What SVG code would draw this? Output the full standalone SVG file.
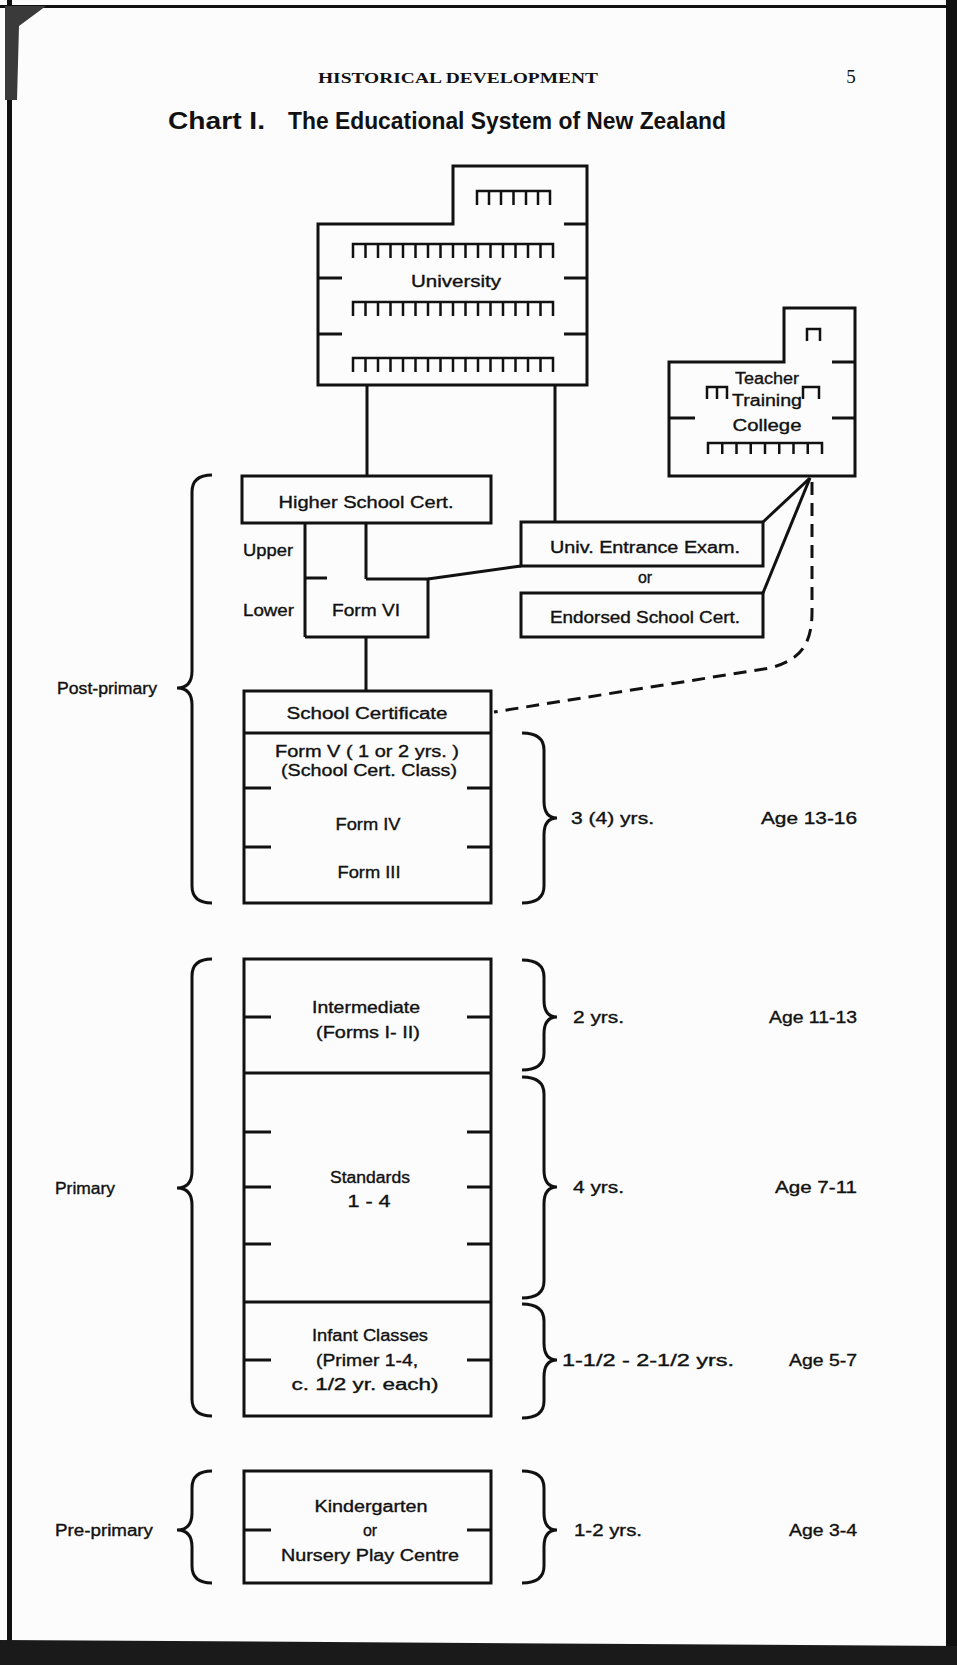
<svg xmlns="http://www.w3.org/2000/svg" width="957" height="1665" viewBox="0 0 957 1665">
<style>
.ln{stroke:#111;stroke-width:3;fill:none;stroke-linejoin:miter}
.bx{stroke:#111;stroke-width:3;fill:none}
.th{stroke:#111;stroke-width:2.5;fill:none}
.dash{stroke:#111;stroke-width:3;fill:none;stroke-dasharray:13 8}
.t{font-family:"Liberation Sans",Arial,sans-serif;font-size:16px;fill:#111;stroke:#111;stroke-width:0.35}
.c{text-anchor:middle}
.e{text-anchor:end}
.hd{font-family:"Liberation Serif","Times New Roman",serif;font-weight:bold;font-size:15px;fill:#111}
.ti{font-family:"Liberation Sans",Arial,sans-serif;font-weight:bold;font-size:23px;fill:#111}
</style>
<defs>
<path id="comb16" d="M0,14 V0 H200 V14 M12.5,0 V14 M25,0 V14 M37.5,0 V14 M50,0 V14 M62.5,0 V14 M75,0 V14 M87.5,0 V14 M100,0 V14 M112.5,0 V14 M125,0 V14 M137.5,0 V14 M150,0 V14 M162.5,0 V14 M175,0 V14 M187.5,0 V14" class="th"/>
</defs>
<rect x="0" y="0" width="957" height="1665" fill="#fcfcfc"/>
<g id="page-frame">
<rect x="7" y="0" width="5" height="1665" fill="#111"/>
<rect x="0" y="5" width="957" height="3" fill="#111"/>
<polygon points="5,6 46,6 19,26 17,100 5,100" fill="#3a3a3a"/>
<rect x="946" y="0" width="11" height="1665" fill="#111"/>
<polygon points="0,1640 957,1646 957,1665 0,1665" fill="#1a1a1a"/>
</g>
<g id="header">
<text class="hd" x="318" y="83" textLength="280" lengthAdjust="spacingAndGlyphs">HISTORICAL DEVELOPMENT</text>
<text x="851" y="83" font-family="Liberation Serif,serif" font-size="19" fill="#111" text-anchor="middle">5</text>
<text class="ti" x="168" y="129" textLength="97" lengthAdjust="spacingAndGlyphs">Chart I.</text>
<text class="ti" x="288" y="129" textLength="438" lengthAdjust="spacingAndGlyphs">The Educational System of New Zealand</text>
</g>
<g id="connectors">
<path class="ln" d="M367,385 V476"/>
<path class="ln" d="M555,385 V522"/>
<path class="ln" d="M305,523 V637"/>
<path class="ln" d="M366,523 V579"/>
<path class="ln" d="M428,579 L521,566"/>
<path class="ln" d="M366,637 V691"/>
<path class="ln" d="M763,522 L810,478"/>
<path class="ln" d="M763,593 L810,478"/>
<path class="dash" d="M812,482 V612 C812,645 800,660 770,668 L494,712"/>
</g>
<g id="university">
<path class="bx" d="M318,224 H453 V166 H587 V385 H318 Z"/>
<path class="ln" d="M564,224 H587 M318,278 H342 M564,278 H587 M318,334 H342 M564,334 H587"/>
<path class="th" d="M477,205 V191 H550 V205 M489,191 V205 M501,191 V205 M513.5,191 V205 M526,191 V205 M538,191 V205"/>
<use href="#comb16" x="353" y="244"/>
<use href="#comb16" x="353" y="302"/>
<use href="#comb16" x="353" y="358"/>
<text class="t c" x="456" y="287" textLength="90" lengthAdjust="spacingAndGlyphs">University</text>
</g>
<g id="teacher-training-college">
<path class="bx" d="M669,362 H784 V308 H855 V476 H669 Z"/>
<path class="ln" d="M832,362 H855 M669,418 H695 M832,418 H855"/>
<path class="th" d="M807,341 V329 H820 V341"/>
<path class="th" d="M707,399 V387 H727 V399 M717,387 V399"/>
<path class="th" d="M803,399 V387 H819 V399"/>
<path class="th" d="M708,454 V443 H822 V454 M722.25,443 V454 M736.5,443 V454 M750.75,443 V454 M765,443 V454 M779.25,443 V454 M793.5,443 V454 M807.75,443 V454"/>
<text class="t c" x="767" y="384" font-size="15" textLength="64" lengthAdjust="spacingAndGlyphs">Teacher</text>
<text class="t c" x="767" y="406" font-size="15" textLength="70" lengthAdjust="spacingAndGlyphs">Training</text>
<text class="t c" x="767" y="431" font-size="15" textLength="69" lengthAdjust="spacingAndGlyphs">College</text>
</g>
<g id="higher-school-cert">
<rect class="bx" x="242" y="476" width="249" height="47"/>
<text class="t c" x="366" y="508" textLength="175" lengthAdjust="spacingAndGlyphs">Higher School Cert.</text>
</g>
<g id="form-vi">
<path class="bx" d="M366,579 H428 V637 H305"/>
<path class="ln" d="M305,578 H327"/>
<text class="t" x="243" y="556" textLength="50" lengthAdjust="spacingAndGlyphs">Upper</text>
<text class="t" x="243" y="616" textLength="51" lengthAdjust="spacingAndGlyphs">Lower</text>
<text class="t c" x="366" y="616" textLength="68" lengthAdjust="spacingAndGlyphs">Form VI</text>
</g>
<g id="univ-entrance-exam">
<rect class="bx" x="521" y="522" width="242" height="44"/>
<text class="t c" x="645" y="553" textLength="190" lengthAdjust="spacingAndGlyphs">Univ. Entrance Exam.</text>
</g>
<g id="or-label"><text class="t c" x="645" y="583">or</text></g>
<g id="endorsed-school-cert">
<rect class="bx" x="521" y="593" width="242" height="44"/>
<text class="t c" x="645" y="623" textLength="190" lengthAdjust="spacingAndGlyphs">Endorsed School Cert.</text>
</g>
<g id="school-certificate">
<rect class="bx" x="244" y="691" width="247" height="212"/>
<path class="bx" d="M244,733 H491"/>
<path class="ln" d="M244,788 H271 M467,788 H491 M244,847 H271 M467,847 H491"/>
<text class="t c" x="367" y="719" textLength="161" lengthAdjust="spacingAndGlyphs">School Certificate</text>
<text class="t c" x="367" y="757" textLength="184" lengthAdjust="spacingAndGlyphs">Form V ( 1 or 2 yrs. )</text>
<text class="t c" x="369" y="776" textLength="176" lengthAdjust="spacingAndGlyphs">(School Cert. Class)</text>
<text class="t c" x="368" y="830" textLength="65" lengthAdjust="spacingAndGlyphs">Form IV</text>
<text class="t c" x="369" y="878" textLength="63" lengthAdjust="spacingAndGlyphs">Form III</text>
</g>
<g id="primary-stack">
<rect class="bx" x="244" y="959" width="247" height="457"/>
<path class="bx" d="M244,1073 H491 M244,1302 H491"/>
<path class="ln" d="M244,1017 H271 M467,1017 H491 M244,1132 H271 M467,1132 H491 M244,1187 H271 M467,1187 H491 M244,1244 H271 M467,1244 H491 M244,1360 H271 M467,1360 H491"/>
<text class="t c" x="366" y="1013" textLength="108" lengthAdjust="spacingAndGlyphs">Intermediate</text>
<text class="t c" x="368" y="1038" textLength="104" lengthAdjust="spacingAndGlyphs">(Forms I- II)</text>
<text class="t c" x="370" y="1183" textLength="80" lengthAdjust="spacingAndGlyphs">Standards</text>
<text class="t c" x="369" y="1207" textLength="43" lengthAdjust="spacingAndGlyphs">1 - 4</text>
<text class="t c" x="370" y="1341" textLength="116" lengthAdjust="spacingAndGlyphs">Infant Classes</text>
<text class="t c" x="367" y="1366" textLength="102" lengthAdjust="spacingAndGlyphs">(Primer 1-4,</text>
<text class="t c" x="365" y="1390" textLength="147" lengthAdjust="spacingAndGlyphs">c. 1/2 yr. each)</text>
</g>
<g id="kindergarten">
<rect class="bx" x="244" y="1471" width="247" height="112"/>
<path class="ln" d="M244,1530 H271 M467,1530 H491"/>
<text class="t c" x="371" y="1512" textLength="113" lengthAdjust="spacingAndGlyphs">Kindergarten</text>
<text class="t c" x="370" y="1536">or</text>
<text class="t c" x="370" y="1561" textLength="178" lengthAdjust="spacingAndGlyphs">Nursery Play Centre</text>
</g>
<g id="braces">
<path class="ln" d="M212,475 Q192,475 192,492 V671 Q192,688 177,688 Q192,688 192,705 V886 Q192,903 212,903"/>
<path class="ln" d="M212,959 Q192,959 192,976 V1171 Q192,1188 177,1188 Q192,1188 192,1205 V1399 Q192,1416 212,1416"/>
<path class="ln" d="M212,1471 Q192,1471 192,1488 V1513 Q192,1530 177,1530 Q192,1530 192,1547 V1566 Q192,1583 212,1583"/>
<path class="ln" d="M522,733 Q544,733 544,750 V801 Q544,818 557,818 Q544,818 544,835 V886 Q544,903 522,903"/>
<path class="ln" d="M522,960 Q544,960 544,977 V1000 Q544,1017 557,1017 Q544,1017 544,1034 V1053 Q544,1070 522,1070"/>
<path class="ln" d="M522,1077 Q544,1077 544,1094 V1170 Q544,1187 557,1187 Q544,1187 544,1204 V1281 Q544,1298 522,1298"/>
<path class="ln" d="M522,1304 Q544,1304 544,1321 V1343 Q544,1360 557,1360 Q544,1360 544,1377 V1401 Q544,1418 522,1418"/>
<path class="ln" d="M522,1471 Q544,1471 544,1488 V1513 Q544,1530 557,1530 Q544,1530 544,1547 V1566 Q544,1583 522,1583"/>
</g>
<g id="labels">
<text class="t" x="57" y="694" textLength="100" lengthAdjust="spacingAndGlyphs">Post-primary</text>
<text class="t" x="55" y="1194" textLength="60" lengthAdjust="spacingAndGlyphs">Primary</text>
<text class="t" x="55" y="1536" textLength="98" lengthAdjust="spacingAndGlyphs">Pre-primary</text>
<text class="t" x="571" y="824" textLength="83" lengthAdjust="spacingAndGlyphs">3 (4) yrs.</text>
<text class="t e" x="857" y="824" textLength="96" lengthAdjust="spacingAndGlyphs">Age 13-16</text>
<text class="t" x="573" y="1023" textLength="51" lengthAdjust="spacingAndGlyphs">2 yrs.</text>
<text class="t e" x="857" y="1023" textLength="88" lengthAdjust="spacingAndGlyphs">Age 11-13</text>
<text class="t" x="573" y="1193" textLength="51" lengthAdjust="spacingAndGlyphs">4 yrs.</text>
<text class="t e" x="857" y="1193" textLength="82" lengthAdjust="spacingAndGlyphs">Age 7-11</text>
<text class="t" x="562" y="1366" textLength="172" lengthAdjust="spacingAndGlyphs">1-1/2 - 2-1/2 yrs.</text>
<text class="t e" x="857" y="1366" textLength="68" lengthAdjust="spacingAndGlyphs">Age 5-7</text>
<text class="t" x="574" y="1536" textLength="68" lengthAdjust="spacingAndGlyphs">1-2 yrs.</text>
<text class="t e" x="857" y="1536" textLength="68" lengthAdjust="spacingAndGlyphs">Age 3-4</text>
</g>
</svg>
